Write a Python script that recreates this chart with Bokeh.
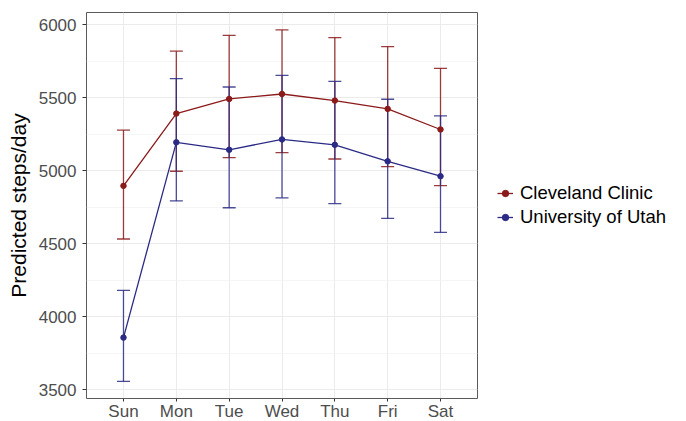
from bokeh.plotting import figure
from bokeh.models import (ColumnDataSource, FactorRange, Range1d, FixedTicker,
                          Whisker, TeeHead, Legend, LegendItem)
from bokeh.embed import file_html
from bokeh.resources import INLINE

days = ["Sun", "Mon", "Tue", "Wed", "Thu", "Fri", "Sat"]

cc_mean = [4896, 5391, 5491, 5525, 5480, 5423, 5282]
cc_upper = [5277, 5818, 5927, 5964, 5911, 5850, 5700]
cc_lower = [4532, 4996, 5089, 5123, 5080, 5027, 4898]

uu_mean = [3857, 5194, 5143, 5214, 5177, 5064, 4962]
uu_upper = [4180, 5630, 5573, 5652, 5611, 5489, 5375]
uu_lower = [3557, 4793, 4746, 4814, 4775, 4673, 4577]

y_ticks = [3500, 4000, 4500, 5000, 5500, 6000]
y_minor = [3750, 4250, 4750, 5250, 5750]

CC_COL = "#8B1A1A"
UU_COL = "#2B2B86"
FONT = "Liberation Sans"

p = figure(frame_width=391, frame_height=386, output_backend="svg", toolbar_location=None,
           x_range=FactorRange(factors=days, range_padding=0.2,
                               range_padding_units="absolute"),
           y_range=Range1d(3440, 6083),
           min_border_left=86, min_border_right=209,
           min_border_top=12, min_border_bottom=20)

p.background_fill_color = "white"
p.border_fill_color = "white"
p.outline_line_color = "#5A5A5A"
p.outline_line_width = 1

p.yaxis.ticker = FixedTicker(ticks=y_ticks, minor_ticks=y_minor)
p.ygrid.grid_line_color = "#EBEBEB"
p.ygrid.grid_line_width = 1
p.ygrid.minor_grid_line_color = "#F2F2F2"
p.ygrid.minor_grid_line_width = 0.8
p.xgrid.grid_line_color = "#EBEBEB"
p.xgrid.grid_line_width = 1

for ax in (p.xaxis[0], p.yaxis[0]):
    ax.axis_line_color = None
    ax.major_tick_line_color = "#333333"
    ax.major_tick_out = 4
    ax.major_tick_in = 0
    ax.minor_tick_line_color = None
    ax.major_label_text_font = FONT
    ax.major_label_text_font_size = "17px"
    ax.major_label_text_color = "#4D4D4D"

p.yaxis.major_label_standoff = 6
p.xaxis.major_tick_out = 3
p.xaxis.major_label_standoff = 0

p.yaxis.axis_label = "Predicted steps/day"
p.yaxis.axis_label_text_font = FONT
p.yaxis.axis_label_text_font_size = "21px"
p.yaxis.axis_label_text_font_style = "normal"
p.yaxis.axis_label_text_color = "black"
p.yaxis.axis_label_standoff = 6

items = []
for name, mean, up, lo, col in [("Cleveland Clinic", cc_mean, cc_upper, cc_lower, CC_COL),
                                ("University of Utah", uu_mean, uu_upper, uu_lower, UU_COL)]:
    src = ColumnDataSource(dict(day=days, mean=mean, upper=up, lower=lo))
    w = Whisker(base="day", upper="upper", lower="lower", source=src,
                dimension="height", line_color=col, line_width=1.3, line_alpha=0.85,
                upper_head=TeeHead(size=13, line_color=col, line_width=1.3, line_alpha=0.85),
                lower_head=TeeHead(size=13, line_color=col, line_width=1.3, line_alpha=0.85))
    p.add_layout(w)
    ln = p.line("day", "mean", source=src, line_color=col, line_width=1.3)
    pt = p.scatter("day", "mean", source=src, size=5.5, fill_color=col, line_color=col)
    items.append(LegendItem(label=name, renderers=[ln, pt]))

legend = Legend(items=items, location="center_left", border_line_color=None,
                background_fill_alpha=0, label_text_font=FONT,
                label_text_font_size="18.5px", label_text_color="black",
                glyph_width=16, glyph_height=20, label_height=20,
                spacing=2, padding=0, margin=20, label_standoff=7)
p.add_layout(legend, "right")

open("out.html", "w").write(file_html(p, INLINE))
